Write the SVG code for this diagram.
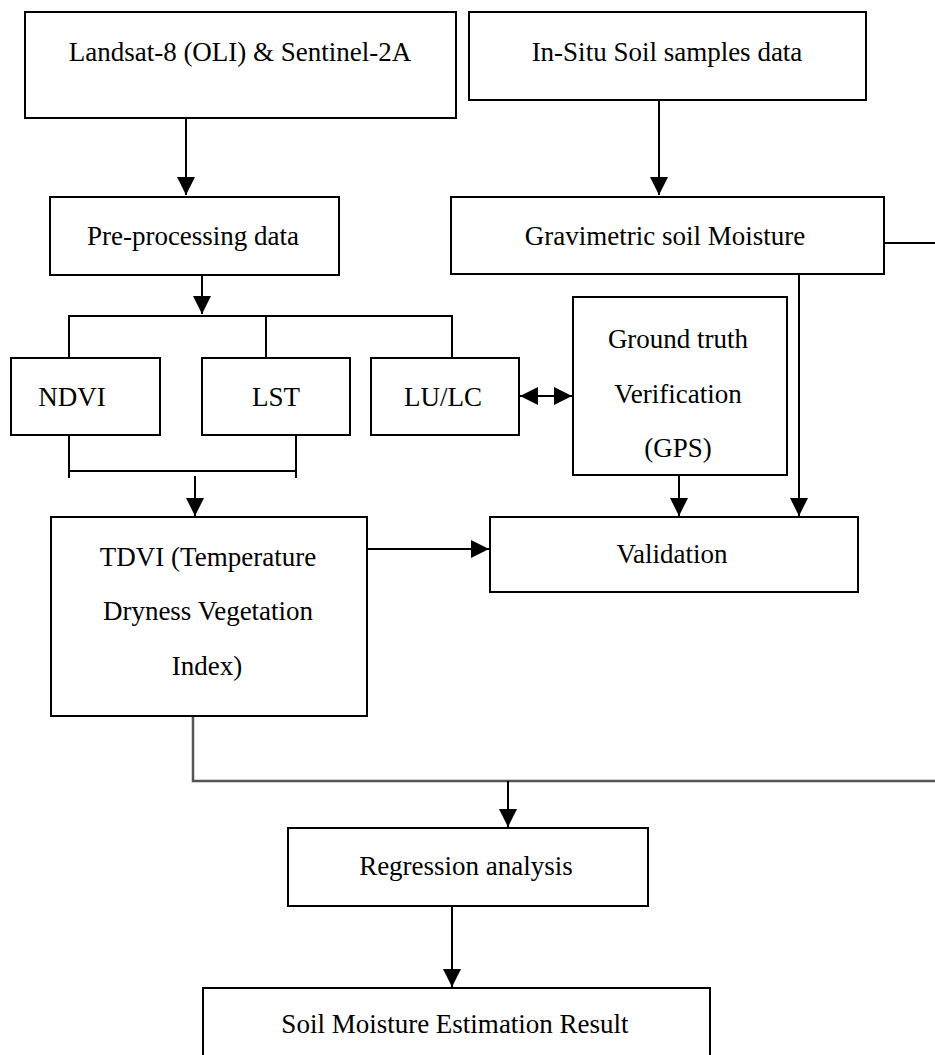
<svg xmlns="http://www.w3.org/2000/svg" width="935" height="1055" viewBox="0 0 935 1055">
<style>
.box{fill:#fff;stroke:#000;stroke-width:2}
.ln{fill:none;stroke:#000;stroke-width:2}
.t{font-family:"Liberation Serif","Times New Roman",serif;font-size:27px;fill:#000;text-anchor:middle}
</style>
<defs>
<marker id="ah" markerUnits="userSpaceOnUse" markerWidth="20" markerHeight="20" refX="18" refY="9" orient="auto">
<path d="M0,0 L18,9 L0,18 z" fill="#000"/>
</marker>
<marker id="ahs" markerUnits="userSpaceOnUse" markerWidth="20" markerHeight="20" refX="18" refY="9" orient="auto-start-reverse">
<path d="M0,0 L18,9 L0,18 z" fill="#000"/>
</marker>
</defs>
<rect width="935" height="1055" fill="#fff"/>
<g id="connectors">
<line class="ln" x1="186" y1="118" x2="186" y2="195" marker-end="url(#ah)"/>
<line class="ln" x1="659" y1="100" x2="659" y2="195" marker-end="url(#ah)"/>
<line class="ln" x1="202" y1="275" x2="202" y2="314" marker-end="url(#ah)"/>
<polyline class="ln" points="69,358 69,316 452,316 452,358"/>
<line class="ln" x1="266" y1="316" x2="266" y2="358"/>
<polyline class="ln" points="69,435 69,478"/>
<polyline class="ln" points="296,435 296,478"/>
<line class="ln" x1="69" y1="471" x2="296" y2="471"/>
<line class="ln" x1="195" y1="476" x2="195" y2="516" marker-end="url(#ah)"/>
<line class="ln" x1="520" y1="396" x2="572" y2="396" marker-start="url(#ahs)" marker-end="url(#ah)"/>
<line class="ln" x1="884" y1="243" x2="935" y2="243"/>
<line class="ln" x1="799" y1="274" x2="799" y2="516" marker-end="url(#ah)"/>
<line class="ln" x1="679" y1="474" x2="679" y2="516" marker-end="url(#ah)"/>
<line class="ln" x1="367" y1="549" x2="489" y2="549" marker-end="url(#ah)"/>
<polyline fill="none" stroke="#555" stroke-width="2.5" points="193,716 193,781 935,781"/>
<line class="ln" x1="508" y1="781" x2="508" y2="827" marker-end="url(#ah)"/>
<line class="ln" x1="452" y1="906" x2="452" y2="987" marker-end="url(#ah)"/>
</g>
<g id="n-landsat"><rect class="box" x="25" y="12" width="431" height="106"/><text class="t" x="240" y="61">Landsat-8 (OLI) &amp; Sentinel-2A</text></g>
<g id="n-insitu"><rect class="box" x="469" y="12" width="397" height="88"/><text class="t" x="667" y="61">In-Situ Soil samples data</text></g>
<g id="n-preproc"><rect class="box" x="50" y="197" width="289" height="78"/><text class="t" x="193" y="245">Pre-processing data</text></g>
<g id="n-gravimetric"><rect class="box" x="451" y="197" width="433" height="77"/><text class="t" x="665" y="245">Gravimetric soil Moisture</text></g>
<g id="n-ndvi"><rect class="box" x="11" y="358" width="149" height="77"/><text class="t" x="72" y="406">NDVI</text></g>
<g id="n-lst"><rect class="box" x="202" y="358" width="148" height="77"/><text class="t" x="276" y="406">LST</text></g>
<g id="n-lulc"><rect class="box" x="371" y="358" width="148" height="77"/><text class="t" x="443" y="406">LU/LC</text></g>
<g id="n-ground"><rect class="box" x="573" y="297" width="214" height="178"/><text class="t" x="678" y="348">Ground truth</text><text class="t" x="678" y="403">Verification</text><text class="t" x="678" y="457">(GPS)</text></g>
<g id="n-validation"><rect class="box" x="490" y="517" width="368" height="75"/><text class="t" x="672" y="563">Validation</text></g>
<g id="n-tdvi"><rect class="box" x="51" y="517" width="316" height="199"/><text class="t" x="208" y="566">TDVI (Temperature</text><text class="t" x="208" y="620">Dryness Vegetation</text><text class="t" x="207" y="675">Index)</text></g>
<g id="n-regression"><rect class="box" x="288" y="828" width="360" height="78"/><text class="t" x="466" y="875">Regression analysis</text></g>
<g id="n-result"><rect class="box" x="203" y="988" width="507" height="80"/><text class="t" x="455" y="1033">Soil Moisture Estimation Result</text></g>
</svg>
